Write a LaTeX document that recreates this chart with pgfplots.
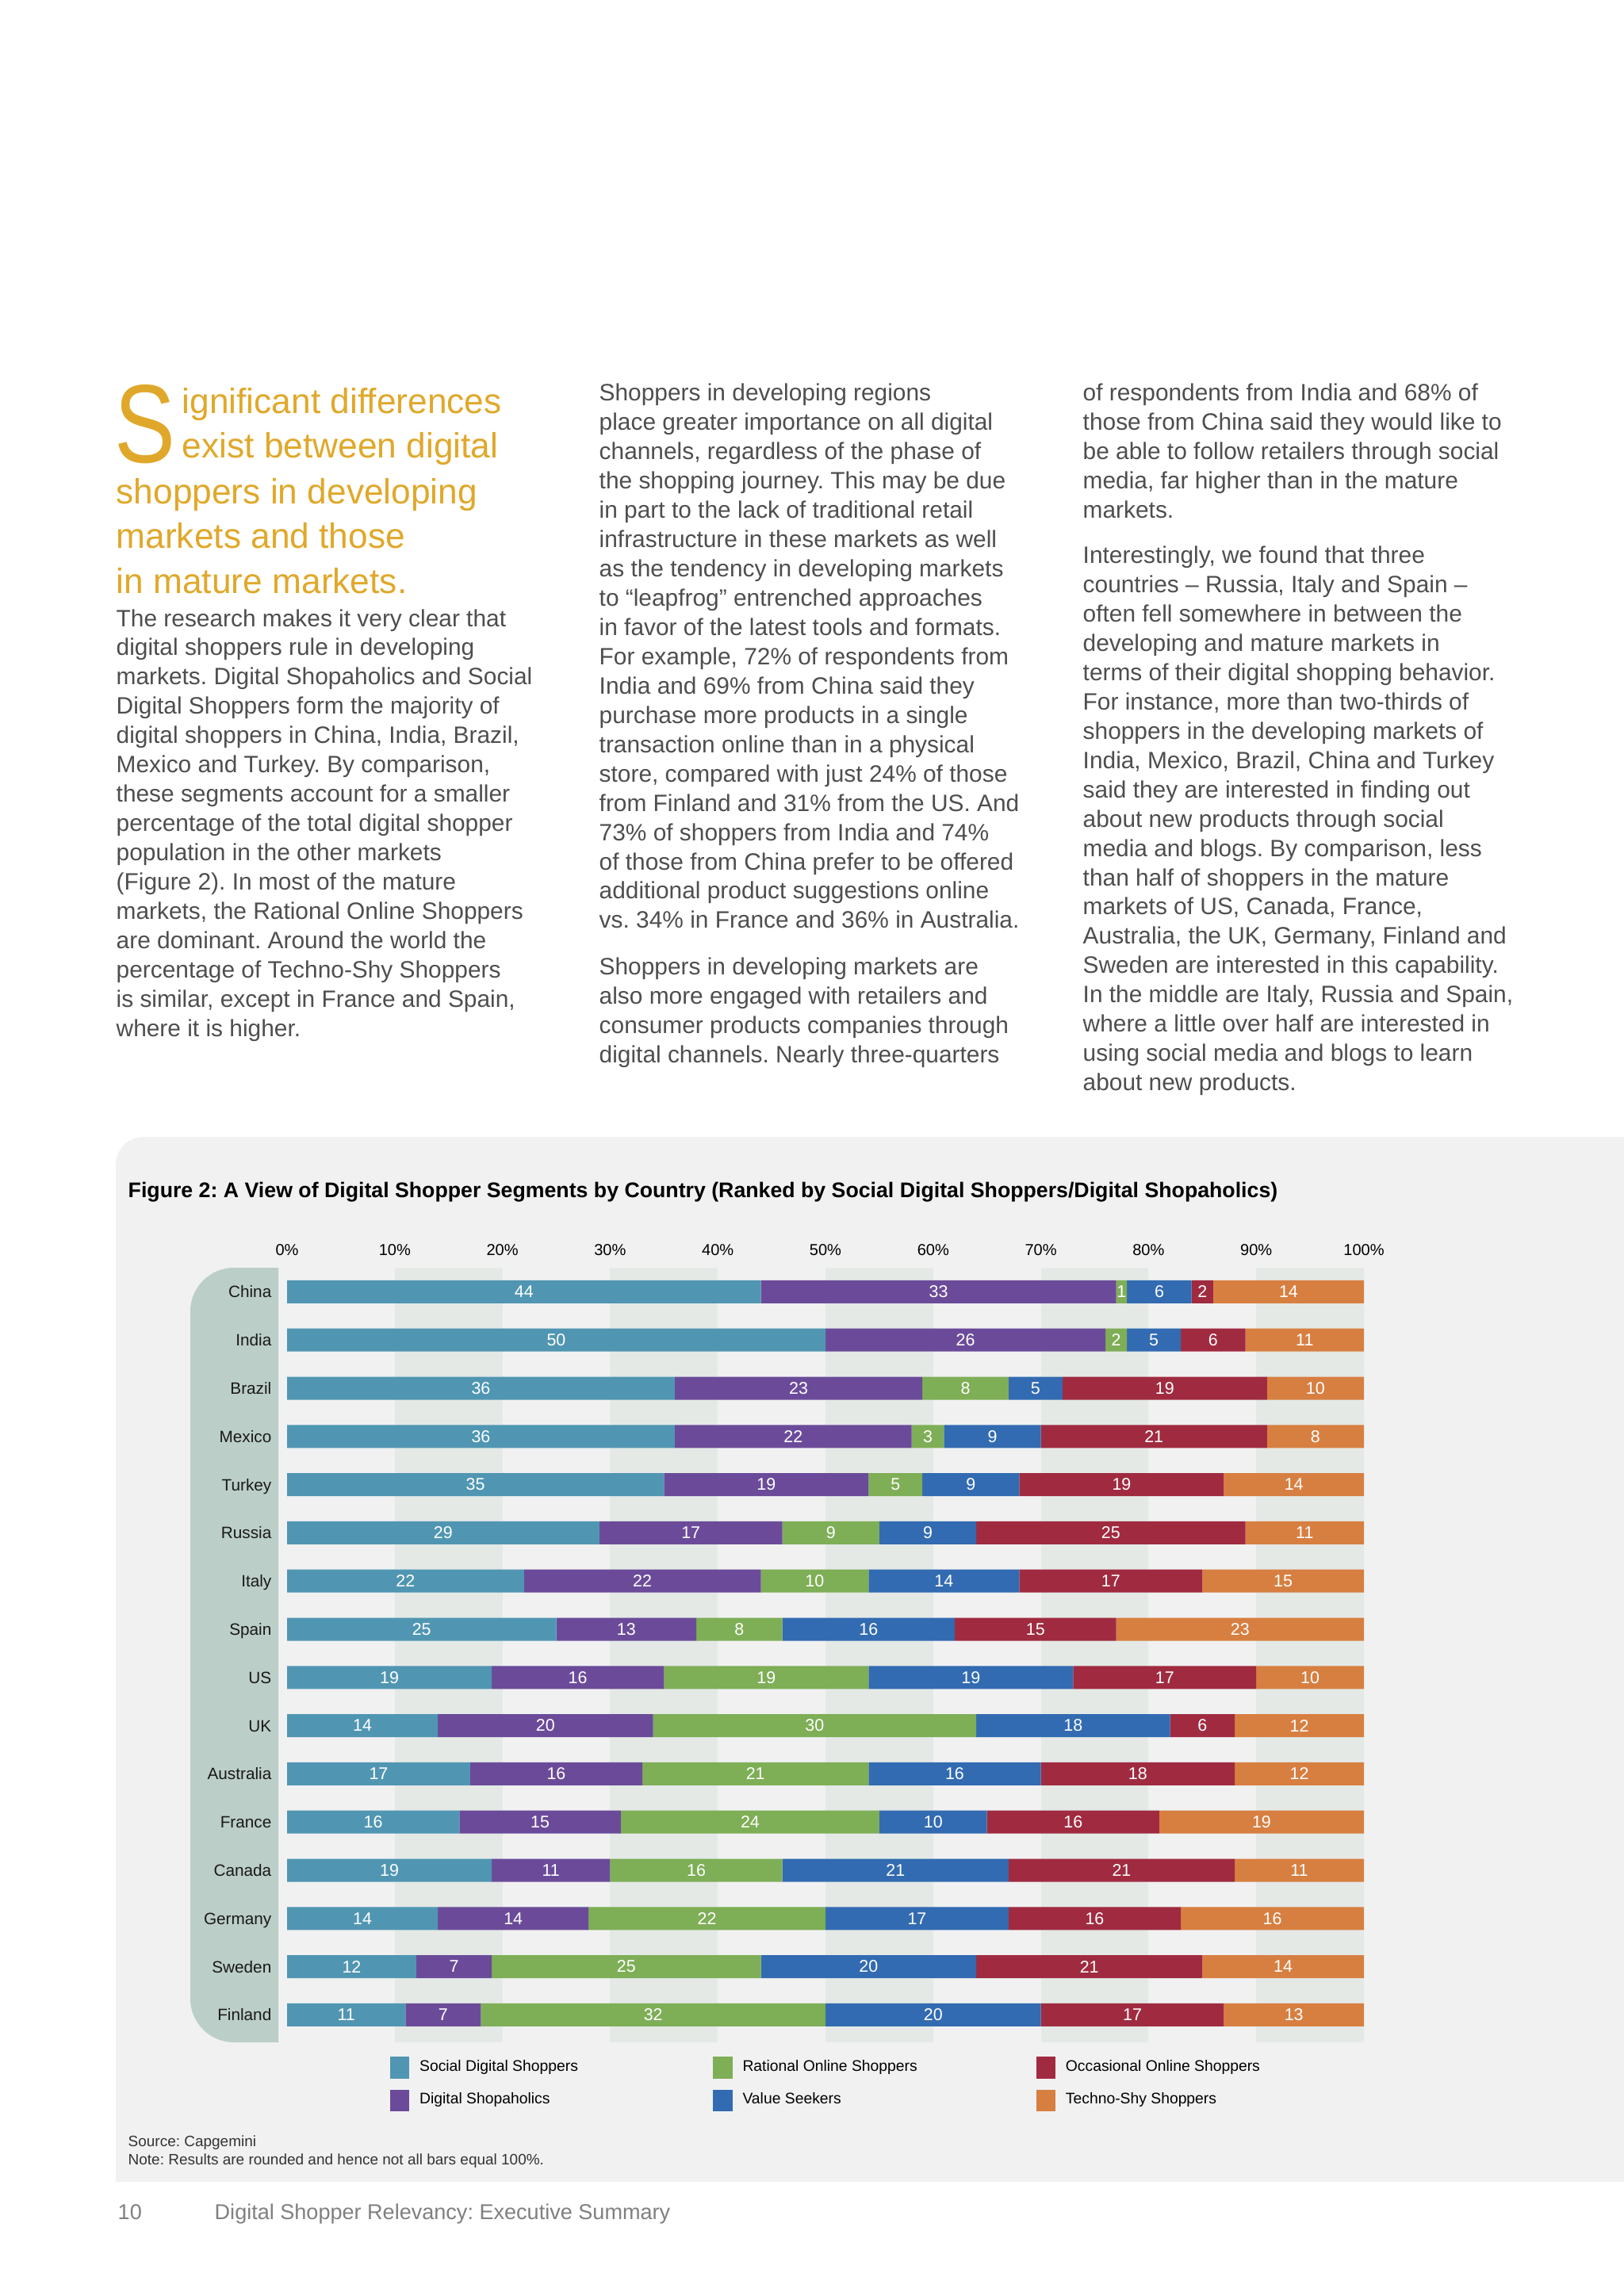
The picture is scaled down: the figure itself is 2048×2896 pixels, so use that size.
\documentclass[border=0pt]{standalone}
\usepackage{fontspec}
\setmainfont{Liberation Sans}
\newfontfamily\dropfont[FakeStretch=0.82]{Liberation Sans}
\usepackage{pgfplots}
\pgfplotsset{compat=1.18}
\usepackage{pgfplotstable}

\definecolor{cSoc}{RGB}{80,150,178}
\definecolor{cShop}{RGB}{107,75,153}
\definecolor{cRat}{RGB}{126,174,86}
\definecolor{cVal}{RGB}{50,107,177}
\definecolor{cOcc}{RGB}{160,43,64}
\definecolor{cTec}{RGB}{215,127,65}
\definecolor{panel}{RGB}{241,241,242}
\definecolor{band}{RGB}{228,233,230}
\definecolor{labcol}{RGB}{188,206,200}
\definecolor{gold}{RGB}{224,168,42}
\definecolor{bodytxt}{RGB}{78,78,80}
\definecolor{foot}{RGB}{128,128,130}

% idx: Finland = 0 ... China = 15 ; tecw = drawn width of the last segment (bars drawn to 100%)
\pgfplotstableread{
idx soc shop rat val occ tec tecw
15 44 33 1 6 2 14 14
14 50 26 2 5 6 11 11
13 36 23 8 5 19 10 9
12 36 22 3 9 21 8 9
11 35 19 5 9 19 14 13
10 29 17 9 9 25 11 11
9 22 22 10 14 17 15 15
8 25 13 8 16 15 23 23
7 19 16 19 19 17 10 10
6 14 20 30 18 6 12 12
5 17 16 21 16 18 12 12
4 16 15 24 10 16 19 19
3 19 11 16 21 21 11 12
2 14 14 22 17 16 16 17
1 12 7 25 20 21 14 15
0 11 7 32 20 17 13 13
}\datatable

\newcommand\bodyfont{\fontsize{8.5}{10.51}\selectfont}
\newcommand\headfont{\fontsize{12.6}{16.2}\selectfont}
\frenchspacing

\begin{document}
\begin{tikzpicture}
\begin{scope}[x=0.1mm,y=-0.1mm]
\path[use as bounding box, fill=white] (0,0) rectangle (2048,2896);
% panel
\fill[panel] (2048,2752) -- (146,2752) -- (146,1469) arc[start angle=180,end angle=270,radius=35] -- (2048,1434) -- cycle;
% label column
\fill[labcol] (351,1599) -- (295,1599) arc[start angle=270,end angle=180,radius=55] -- (240,2521) arc[start angle=180,end angle=90,radius=55] -- (351,2576) -- cycle;
% bands
\foreach \k in {1,3,5,7,9}{
  \fill[band] ({362+135.8*\k},1599) rectangle ({362+135.8*(\k+1)},2576);
}
% heading
\node[anchor=base west, inner sep=0pt, text=gold] at (144,583) {\dropfont\fontsize{40}{40}\selectfont S};
\node[anchor=base west, inner sep=0pt, text=gold] at (229,521) {\parbox[t]{90mm}{\headfont ignificant differences\\exist between digital}};
\node[anchor=base west, inner sep=0pt, text=gold] at (146,635) {\parbox[t]{90mm}{\headfont shoppers in developing\\markets and those\\in mature markets.}};
% column 1
\node[anchor=base west, inner sep=0pt, text=bodytxt] at (146,790) {\parbox[t]{70mm}{\bodyfont
The research makes it very clear that\\
digital shoppers rule in developing\\
markets. Digital Shopaholics and Social\\
Digital Shoppers form the majority of\\
digital shoppers in China, India, Brazil,\\
Mexico and Turkey. By comparison,\\
these segments account for a smaller\\
percentage of the total digital shopper\\
population in the other markets\\
(Figure 2). In most of the mature\\
markets, the Rational Online Shoppers\\
are dominant. Around the world the\\
percentage of Techno-Shy Shoppers\\
is similar, except in France and Spain,\\
where it is higher.}};
% column 2
\node[anchor=base west, inner sep=0pt, text=bodytxt] at (755,506) {\parbox[t]{70mm}{\bodyfont
Shoppers in developing regions\\
place greater importance on all digital\\
channels, regardless of the phase of\\
the shopping journey. This may be due\\
in part to the lack of traditional retail\\
infrastructure in these markets as well\\
as the tendency in developing markets\\
to “leapfrog” entrenched approaches\\
in favor of the latest tools and formats.\\
For example, 72\% of respondents from\\
India and 69\% from China said they\\
purchase more products in a single\\
transaction online than in a physical\\
store, compared with just 24\% of those\\
from Finland and 31\% from the US. And\\
73\% of shoppers from India and 74\%\\
of those from China prefer to be offered\\
additional product suggestions online\\
vs. 34\% in France and 36\% in Australia.\\[2.2mm]
Shoppers in developing markets are\\
also more engaged with retailers and\\
consumer products companies through\\
digital channels. Nearly three-quarters}};
% column 3
\node[anchor=base west, inner sep=0pt, text=bodytxt] at (1365,506) {\parbox[t]{70mm}{\bodyfont
of respondents from India and 68\% of\\
those from China said they would like to\\
be able to follow retailers through social\\
media, far higher than in the mature\\
markets.\\[2.0mm]
Interestingly, we found that three\\
countries – Russia, Italy and Spain –\\
often fell somewhere in between the\\
developing and mature markets in\\
terms of their digital shopping behavior.\\
For instance, more than two-thirds of\\
shoppers in the developing markets of\\
India, Mexico, Brazil, China and Turkey\\
said they are interested in finding out\\
about new products through social\\
media and blogs. By comparison, less\\
than half of shoppers in the mature\\
markets of US, Canada, France,\\
Australia, the UK, Germany, Finland and\\
Sweden are interested in this capability.\\
In the middle are Italy, Russia and Spain,\\
where a little over half are interested in\\
using social media and blogs to learn\\
about new products.}};
% figure title
\node[anchor=base west, inner sep=0pt] at (161,1510) {\fontsize{7.6}{9}\selectfont\bfseries Figure 2: A View of Digital Shopper Segments by Country (Ranked by Social Digital Shoppers/Digital Shopaholics)};
% source
\node[anchor=base west, inner sep=0pt, text=black!80] at (161,2707) {\parbox[t]{120mm}{\fontsize{5.4}{6.8}\selectfont Source: Capgemini\\Note: Results are rounded and hence not all bars equal 100\%.}};
% footer
\node[anchor=base west, inner sep=0pt, text=foot] at (148,2799) {\fontsize{7.7}{9}\selectfont 10};
\node[anchor=base west, inner sep=0pt, text=foot] at (270,2799) {\fontsize{7.7}{9}\selectfont Digital Shopper Relevancy: Executive Summary};
\end{scope}

\begin{axis}[
  at={(36.2mm,-159.9mm)}, anchor=north west,
  width=135.8mm, height=97.28mm, scale only axis,
  xmin=0, xmax=100, ymin=-0.5, ymax=15.5,
  xbar stacked, bar width=2.9mm,
  /pgf/number format/assume math mode=true,
  axis line style={draw=none}, tick style={draw=none},
  xtick={0,10,...,100},
  xticklabels={0\%,10\%,20\%,30\%,40\%,50\%,60\%,70\%,80\%,90\%,100\%},
  xticklabel pos=upper,
  xticklabel style={font=\fontsize{5.7}{6.5}\selectfont, inner sep=0pt, anchor=base, yshift=1.6mm},
  ytick={0,...,15},
  yticklabels={Finland,Sweden,Germany,Canada,France,Australia,UK,US,Spain,Italy,Russia,Turkey,Mexico,Brazil,India,China},
  yticklabel style={font=\fontsize{5.9}{7}\selectfont, text=black!90, inner sep=0pt, anchor=base east, xshift=-1.9mm, yshift=-0.75mm},
  point meta=explicit,
  nodes near coords,
  nodes near coords style={font=\fontsize{6.1}{7}\selectfont, text=white, inner sep=0pt, anchor=center},
  legend columns=3,
  legend cell align=left,
  legend style={at={(0.095,-0.0226)}, anchor=north west, draw=none, fill=none, inner sep=0pt, row sep=1.4mm, column sep=0pt, font=\fontsize{5.5}{6.5}\selectfont, nodes={inner sep=0pt}},
]
\addlegendimage{legend image code/.code={\fill[cSoc] (0mm,-1.3mm) rectangle (2.3mm,1.3mm);}}
\addlegendentry{\hspace{1.3mm}\makebox[37mm][l]{Social Digital Shoppers}}
\addlegendimage{legend image code/.code={\fill[cRat] (0mm,-1.3mm) rectangle (2.3mm,1.3mm);}}
\addlegendentry{\hspace{1.3mm}\makebox[37mm][l]{Rational Online Shoppers}}
\addlegendimage{legend image code/.code={\fill[cOcc] (0mm,-1.3mm) rectangle (2.3mm,1.3mm);}}
\addlegendentry{\hspace{1.3mm}\makebox[37mm][l]{Occasional Online Shoppers}}
\addlegendimage{legend image code/.code={\fill[cShop] (0mm,-1.3mm) rectangle (2.3mm,1.3mm);}}
\addlegendentry{\hspace{1.3mm}\makebox[37mm][l]{Digital Shopaholics}}
\addlegendimage{legend image code/.code={\fill[cVal] (0mm,-1.3mm) rectangle (2.3mm,1.3mm);}}
\addlegendentry{\hspace{1.3mm}\makebox[37mm][l]{Value Seekers}}
\addlegendimage{legend image code/.code={\fill[cTec] (0mm,-1.3mm) rectangle (2.3mm,1.3mm);}}
\addlegendentry{\hspace{1.3mm}\makebox[37mm][l]{Techno-Shy Shoppers}}

\addplot[fill=cSoc, draw=none] table[x=soc, y=idx, meta=soc] {\datatable};
\addplot[fill=cShop, draw=none] table[x=shop, y=idx, meta=shop] {\datatable};
\addplot[fill=cRat, draw=none] table[x=rat, y=idx, meta=rat] {\datatable};
\addplot[fill=cVal, draw=none] table[x=val, y=idx, meta=val] {\datatable};
\addplot[fill=cOcc, draw=none] table[x=occ, y=idx, meta=occ] {\datatable};
\addplot[fill=cTec, draw=none] table[x=tecw, y=idx, meta=tec] {\datatable};
\end{axis}
\end{tikzpicture}
\end{document}
